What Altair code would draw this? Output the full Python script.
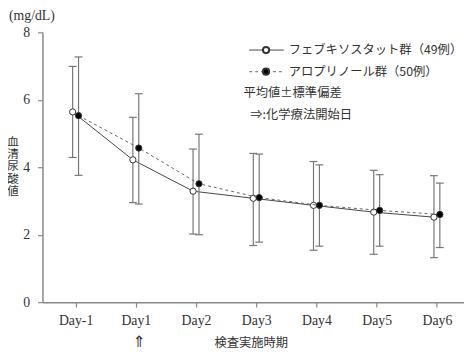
import json
import altair as alt
import pandas as pd

days = ["Day-1", "Day1", "Day2", "Day3", "Day4", "Day5", "Day6"]
feb_mean = [5.64, 4.22, 3.29, 3.08, 2.87, 2.67, 2.52]
feb_hi = [6.99, 5.48, 4.54, 4.41, 4.17, 3.91, 3.75]
feb_lo = [4.29, 2.95, 2.02, 1.68, 1.54, 1.42, 1.32]
allo_mean = [5.53, 4.57, 3.51, 3.10, 2.87, 2.72, 2.60]
allo_hi = [7.27, 6.18, 4.98, 4.39, 4.07, 3.78, 3.53]
allo_lo = [3.76, 2.91, 2.00, 1.78, 1.66, 1.66, 1.62]
y_title_chars = ["血", "清", "尿", "酸", "値"]

feb = pd.DataFrame({"idx": list(range(len(days))), "mean": feb_mean, "hi": feb_hi, "lo": feb_lo})
allo = pd.DataFrame({"idx": list(range(len(days))), "mean": allo_mean, "hi": allo_hi, "lo": allo_lo})

label_expr = json.dumps(days) + "[datum.value]"
SERIF = "Liberation Serif"
JP = "Noto Sans CJK JP"

xscale = alt.Scale(domain=[-0.55, 6.45], nice=False, zero=False)
yscale = alt.Scale(domain=[0, 8], nice=False)

xenc = alt.X("idx:Q", scale=xscale, axis=alt.Axis(
    values=list(range(len(days))), labelExpr=label_expr, title=None, grid=False,
    labelFont=SERIF, labelFontSize=14, labelColor="#333", labelPadding=7,
    tickSize=5, tickColor="#888", domainColor="#888", domainWidth=1.5, tickWidth=1.2))
yenc = alt.Y("mean:Q", scale=yscale, axis=alt.Axis(
    values=[0, 2, 4, 6, 8], grid=False, labelFont=SERIF, labelFontSize=14,
    labelColor="#333", labelPadding=8, tickSize=5, tickColor="#888",
    domainColor="#888", domainWidth=1.5, tickWidth=1.2, title=None))

CAP = "M-1,0L1,0"


def series(df, off, line_color, dash, fill):
    base = alt.Chart(df)
    rule = base.mark_rule(color="#777", strokeWidth=1.2, xOffset=off).encode(
        x=alt.X("idx:Q", scale=xscale), y=alt.Y("lo:Q", scale=yscale), y2="hi:Q")
    cap_hi = base.mark_point(shape=CAP, size=64, filled=False, color="#777",
                             strokeWidth=1.2, xOffset=off, opacity=1).encode(
        x=alt.X("idx:Q", scale=xscale), y=alt.Y("hi:Q", scale=yscale))
    cap_lo = base.mark_point(shape=CAP, size=64, filled=False, color="#777",
                             strokeWidth=1.2, xOffset=off, opacity=1).encode(
        x=alt.X("idx:Q", scale=xscale), y=alt.Y("lo:Q", scale=yscale))
    line_kw = dict(color=line_color, strokeWidth=1, xOffset=off)
    if dash:
        line_kw["strokeDash"] = dash
    line = base.mark_line(**line_kw).encode(x=xenc, y=yenc)
    pts = base.mark_point(shape="circle", size=40, filled=True, fill=fill,
                          stroke="#333", strokeWidth=1, xOffset=off, opacity=1).encode(
        x=alt.X("idx:Q", scale=xscale), y=alt.Y("mean:Q", scale=yscale))
    return [rule, cap_hi, cap_lo, line, pts]


one = pd.DataFrame({"a": [0]})


def txt(text, x, y, font=JP, size=12.5, align="left", **kw):
    return alt.Chart(one).mark_text(text=text, font=font, fontSize=size, align=align,
                                    baseline="middle", color="#333", **kw).encode(
        x=alt.value(x), y=alt.value(y))


legend = [
    alt.Chart(one).mark_rule(color="#444", strokeWidth=1).encode(
        x=alt.value(210), x2=alt.value(245), y=alt.value(18)),
    alt.Chart(one).mark_point(shape="circle", size=40, filled=True, fill="white",
                              stroke="#333", opacity=1).encode(x=alt.value(227), y=alt.value(18)),
    txt("フェブキソスタット群（49例）", 250, 18),
    alt.Chart(one).mark_rule(color="#666", strokeWidth=1, strokeDash=[3, 3]).encode(
        x=alt.value(210), x2=alt.value(245), y=alt.value(40)),
    alt.Chart(one).mark_point(shape="circle", size=40, filled=True, fill="black",
                              stroke="#333", opacity=1).encode(x=alt.value(227), y=alt.value(40)),
    txt("アロプリノール群（50例）", 250, 40),
    txt("平均値±標準偏差", 204, 62),
    txt("⇒:化学療法開始日", 211, 84),
    txt("(mg/dL)", -34, -17, font=SERIF, size=14),
    txt("検査実施時期", 212, 316, align="center"),
    txt("⇑", 98, 315, font="DejaVu Sans", size=16, align="center"),
    alt.Chart(one).mark_text(text="\n".join(y_title_chars), lineBreak="\n", lineHeight=12.5,
                             font=JP, fontSize=12, align="center", baseline="top",
                             color="#333").encode(x=alt.value(-30), y=alt.value(106)),
]

layers = series(feb, -3, "#444", None, "white") + series(allo, 3, "#666", [3, 3], "black") + legend

chart = alt.layer(*layers).properties(
    width=428, height=274,
    autosize=alt.AutoSizeParams(type="none"),
    padding={"left": 35, "top": 22, "right": 0, "bottom": 55},
).configure_view(stroke=None)

chart.save("out.html", embed_options={"renderer": "svg", "actions": False})
